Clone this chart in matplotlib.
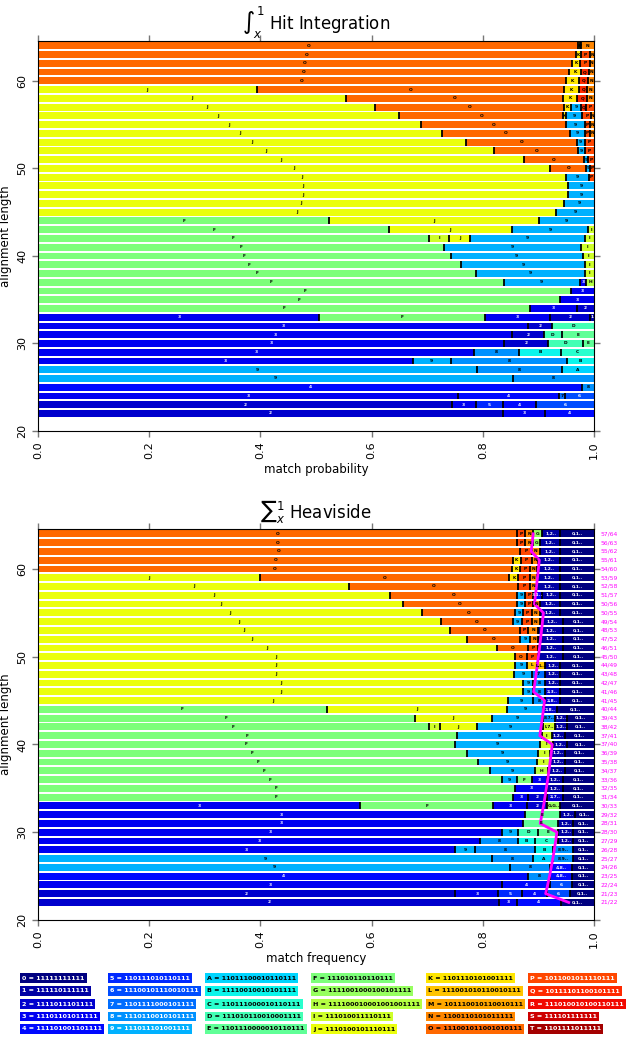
import matplotlib
matplotlib.use('Agg')
import matplotlib.pyplot as plt
from matplotlib import cm
from matplotlib.transforms import blended_transform_factory

codes = '0123456789ABCDEFGHIJKLMNOPQRST'
seeds = ['11111111111', '111110111111', '1111011101111', '11101101011111',
         '111101001101111', '110111010110111', '11100101110010111',
         '1101111000101111', '1110110010101111', '111011101001111',
         '11011100010110111', '11110010010101111', '110111000010110111',
         '111010110010001111', '1101110000010110111', '111010110110111',
         '1111001000100101111', '111100010001001001111', '111010011110111',
         '1110100101110111', '1101110101001111', '111001010110010111',
         '101110010110010111', '1100110101011111', '111001011001010111',
         '1011001011110111', '10111101100101111', '111010010100110111',
         '111101111111', '1101111011111']

lengths = list(range(64, 21, -1))

# segments per row: (seed label, cumulative end)
hit_rows = [
    [('O', .972), ('K', .974), ('P', .977), ('N', 1)],
    [('O', .967), ('K', .977), ('P', .993), ('N', 1)],
    [('O', .960), ('K', .975), ('P', .992), ('N', 1)],
    [('O', .955), ('K', .977), ('Q', .991), ('N', 1)],
    [('O', .950), ('K', .973), ('Q', .989), ('N', 1)],
    [('J', .393), ('O', .946), ('K', .973), ('Q', .988), ('N', 1)],
    [('J', .554), ('O', .944), ('K', .970), ('Q', .988), ('N', 1)],
    [('J', .607), ('O', .946), ('K', .959), ('9', .977), ('Q', .985), ('P', 1)],
    [('J', .649), ('O', .945), ('K', .950), ('9', .979), ('P', .995), ('N', 1)],
    [('J', .688), ('O', .950), ('9', .983), ('P', .993), ('N', 1)],
    [('J', .726), ('O', .956), ('9', .983), ('P', .993), ('N', 1)],
    [('J', .769), ('O', .969), ('9', .983), ('P', 1)],
    [('J', .821), ('O', .971), ('9', .984), ('P', 1)],
    [('J', .874), ('O', .982), ('9', .989), ('P', 1)],
    [('J', .921), ('O', .986), ('9', .993), ('P', 1)],
    [('J', .949), ('9', .991), ('P', 1)],
    [('J', .954), ('9', 1)],
    [('J', .954), ('9', 1)],
    [('J', .946), ('9', 1)],
    [('J', .932), ('9', 1)],
    [('F', .524), ('J', .901), ('9', 1)],
    [('F', .632), ('J', .852), ('9', .990), ('I', 1)],
    [('F', .703), ('I', .740), ('J', .777), ('9', .984), ('I', 1)],
    [('F', .730), ('9', .976), ('I', 1)],
    [('F', .742), ('9', .980), ('I', 1)],
    [('F', .761), ('9', .983), ('I', 1)],
    [('F', .788), ('9', .984), ('I', 1)],
    [('F', .838), ('9', .974), ('3', .986), ('H', 1)],
    [('F', .959), ('3', 1)],
    [('F', .939), ('3', 1)],
    [('F', .884), ('3', .969), ('2', 1)],
    [('3', .506), ('F', .804), ('3', .920), ('2', .993), ('1', 1)],
    [('3', .882), ('2', .925), ('D', 1)],
    [('3', .853), ('2', .910), ('D', .942), ('E', 1)],
    [('3', .838), ('2', .918), ('D', .980), ('E', 1)],
    [('3', .785), ('8', .865), ('B', .941), ('C', 1)],
    [('3', .674), ('9', .742), ('8', .952), ('B', 1)],
    [('9', .790), ('8', .942), ('A', 1)],
    [('9', .854), ('8', 1)],
    [('4', .978), ('8', 1)],
    [('3', .756), ('4', .937), ('7', .947), ('6', 1)],
    [('2', .744), ('3', .787), ('5', .836), ('4', .895), ('6', 1)],
    [('2', .836), ('3', .911), ('4', 1)],
]

heav_rows = [
    [('O', .861), ('P', .876), ('N', .891), ('G', .906), ('1,2..', .939), ('0,1..', 1)],
    [('O', .861), ('P', .876), ('N', .891), ('G', .903), ('1,2..', .939), ('0,1..', 1)],
    [('O', .867), ('P', .888), ('N', .902), ('1,2..', .939), ('0,1..', 1)],
    [('O', .854), ('K', .868), ('P', .888), ('N', .900), ('1,2..', .939), ('0,1..', 1)],
    [('O', .852), ('K', .867), ('P', .885), ('N', .898), ('1,2..', .939), ('0,1..', 1)],
    [('J', .40), ('O', .848), ('K', .864), ('P', .885), ('N', .898), ('1,2..', .939), ('0,1..', 1)],
    [('J', .56), ('O', .864), ('P', .885), ('N', .898), ('1,2..', .939), ('0,1..', 1)],
    [('J', .633), ('O', .861), ('9', .876), ('P', .891), ('3,1..', .906), ('1,2..', .939), ('0,1..', 1)],
    [('J', .657), ('O', .861), ('9', .876), ('P', .891), ('N', .903), ('1,2..', .939), ('0,1..', 1)],
    [('J', .690), ('O', .858), ('9', .873), ('P', .888), ('N', .903), ('1,2..', .939), ('0,1..', 1)],
    [('J', .724), ('O', .854), ('9', .870), ('P', .888), ('N', .903), ('1,2..', .945), ('0,1..', 1)],
    [('J', .741), ('O', .867), ('P', .882), ('N', .900), ('1,2..', .945), ('0,1..', 1)],
    [('J', .771), ('O', .867), ('9', .885), ('N', .900), ('1,2..', .945), ('0,1..', 1)],
    [('J', .825), ('O', .882), ('P', .900), ('1,2..', .945), ('0,1..', 1)],
    [('J', .858), ('O', .879), ('P', .900), ('1,2..', .945), ('0,1..', 1)],
    [('J', .858), ('9', .879), ('L', .897), ('L,L..', .912), ('1,2..', .939), ('0,1..', 1)],
    [('J', .856), ('9', .888), ('7', .912), ('1,2..', .939), ('0,1..', 1)],
    [('J', .873), ('9', .891), ('8', .912), ('1,2..', .939), ('0,1..', 1)],
    [('J', .873), ('9', .891), ('8', .912), ('2,3..', .939), ('0,1..', 1)],
    [('J', .846), ('9', .891), ('8', .912), ('2,8..', .939), ('0,1..', 1)],
    [('F', .52), ('J', .843), ('9', .909), ('2,8..', .934), ('0,1..', 1)],
    [('F', .678), ('J', .816), ('9', .909), ('8,7..', .930), ('1,2..', .951), ('0,1..', 1)],
    [('F', .703), ('I', .723), ('J', .789), ('9', .909), ('I,7..', .930), ('1,2..', .951), ('0,1..', 1)],
    [('F', .753), ('9', .906), ('I', .924), ('1,2..', .948), ('0,1..', 1)],
    [('F', .750), ('9', .903), ('I', .926), ('1,2..', .951), ('0,1..', 1)],
    [('F', .771), ('9', .900), ('I', .921), ('1,2..', .948), ('0,1..', 1)],
    [('F', .792), ('9', .897), ('I', .921), ('1,2..', .948), ('0,1..', 1)],
    [('F', .813), ('9', .894), ('H', .918), ('1,2..', .948), ('0,1..', 1)],
    [('F', .834), ('9', .861), ('F', .888), ('3', .915), ('1,2..', .945), ('0,1..', 1)],
    [('F', .858), ('3', .915), ('1,2..', .945), ('0,1..', 1)],
    [('F', .855), ('3', .882), ('2', .915), ('2,7..', .945), ('0,1..', 1)],
    [('3', .58), ('F', .819), ('3', .879), ('2', .915), ('G,G..', .939), ('0,1..', 1)],
    [('3', .876), ('E', .939), ('1,2..', .966), ('0,1..', 1)],
    [('3', .873), ('E', .936), ('1,2..', .963), ('0,1..', 1)],
    [('3', .834), ('9', .864), ('D', .900), ('E', .936), ('1,2..', .963), ('0,1..', 1)],
    [('3', .795), ('8', .864), ('B', .894), ('C', .936), ('1,2..', .963), ('0,1..', 1)],
    [('3', .750), ('9', .786), ('8', .894), ('B', .927), ('8,9..', .963), ('0,1..', 1)],
    [('9', .816), ('8', .891), ('A', .927), ('8,9..', .963), ('0,1..', 1)],
    [('9', .849), ('8', .921), ('4,8..', .960), ('0,1..', 1)],
    [('4', .882), ('8', .921), ('4,8..', .960), ('0,1..', 1)],
    [('3', .834), ('4', .921), ('6', .960), ('0,1..', 1)],
    [('2', .750), ('3', .828), ('5', .870), ('4', .915), ('6', .957), ('0,1..', 1)],
    [('2', .830), ('3', .861), ('4', .940), ('0,1..', 1)],
]

# right-hand labels of the Heaviside panel: threshold / length
heav_thresh = [57, 56, 55, 55, 54, 53, 52, 51, 50, 50, 49, 48, 47, 46, 45,
               44, 43, 42, 41, 41, 40, 39, 38, 37, 37, 36, 35, 34, 33, 32,
               31, 30, 29, 28, 28, 27, 26, 25, 24, 23, 22, 21, 21]


def seed_color(label):
    return cm.jet(codes.index(label[0]) / 30.0)


def draw_panel(ax, rows, title, xlabel):
    for L, segs in zip(lengths, rows):
        start = 0.0
        for lab, end in segs:
            ax.barh(L, end - start, left=start, height=0.78,
                    color=seed_color(lab), edgecolor='none')
            idx = codes.index(lab[0])
            tc = 'white' if idx <= 6 else 'black'
            ax.text((start + end) / 2, L, lab, fontsize=3.2, weight='bold',
                    ha='center', va='center', color=tc)
            if start > 0:
                ax.vlines(start, L - 0.39, L + 0.39, color='black', lw=1.3)
            start = end
    ax.set_xlim(0, 1)
    ax.set_ylim(20, 64.55)
    ax.set_xticks([0, .2, .4, .6, .8, 1.0])
    ax.set_xticklabels(['0.0', '0.2', '0.4', '0.6', '0.8', '1.0'], rotation=90)
    ax.set_yticks([20, 30, 40, 50, 60])
    ax.set_yticklabels(['20', '30', '40', '50', '60'], rotation=90, va='center')
    ax.tick_params(direction='out', length=4, width=1, color='#777777',
                   labelsize=8, top=True, right=True)
    ax.set_ylabel('alignment length', fontsize=8.5, labelpad=4)
    ax.set_xlabel(xlabel, fontsize=8.5, labelpad=3)
    ax.set_title(title, fontsize=12, pad=8)


fig = plt.figure(figsize=(6.26, 10.37), dpi=100)
ax1 = fig.add_axes([38 / 626, 1 - 431 / 1037, 556 / 626, 390 / 1037])
ax2 = fig.add_axes([38 / 626, 1 - 920 / 1037, 556 / 626, 391 / 1037])

draw_panel(ax1, hit_rows, r'$\int_x^1$ Hit Integration', 'match probability')
draw_panel(ax2, heav_rows, r'${\sum}_x^1$ Heaviside', 'match frequency')

# threshold line and labels
ax2.plot([t / L for t, L in zip(heav_thresh, lengths)], lengths,
         color='magenta', lw=2)
trans = blended_transform_factory(ax2.transAxes, ax2.transData)
for t, L in zip(heav_thresh, lengths):
    ax2.text(1.012, L, f'{t}/{L}', transform=trans, fontsize=4.3,
             color='magenta', va='center', ha='left')

# legend of seeds
col_x = [20, 108, 205, 311, 426, 528]
row_y = [978, 991, 1004, 1016.5, 1029]
for i, (c, s) in enumerate(zip(codes, seeds)):
    col, row = divmod(i, 5)
    tc = 'black' if 10 <= i <= 24 else 'white'
    fig.text((col_x[col] + 2) / 626, 1 - row_y[row] / 1037, f'{c} = {s}',
             fontsize=4.6, weight='bold', color=tc, va='center', ha='left',
             bbox=dict(boxstyle='square,pad=0.35', fc=seed_color(c), ec='none'))

fig.savefig('out.png', dpi=100)
